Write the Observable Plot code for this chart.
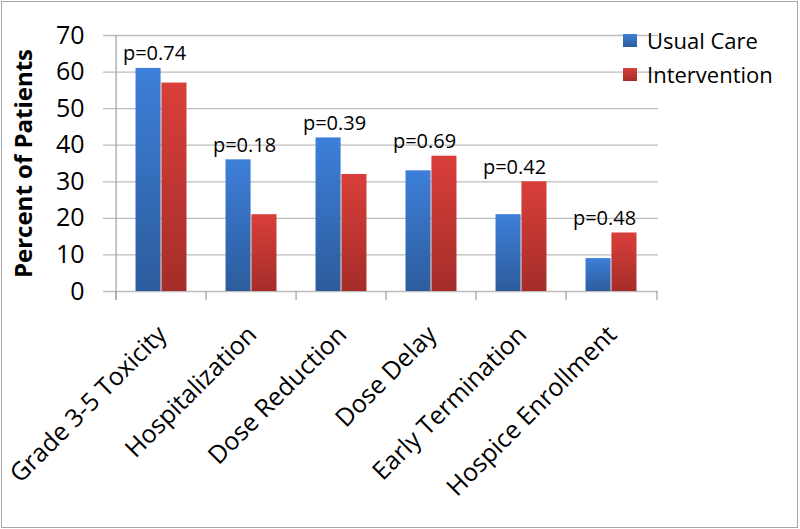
<!DOCTYPE html>
<html>
<head>
<meta charset="utf-8">
<script src="https://cdn.jsdelivr.net/npm/d3@7"></script>
<script src="https://cdn.jsdelivr.net/npm/@observablehq/plot@0.6"></script>
<style>
  html, body { margin: 0; padding: 0; background: #fff; }
  #wrap { position: relative; width: 800px; height: 529px; overflow: hidden; font-family: "Open Sans", sans-serif; }
  #chart svg { position: absolute; left: 0; top: 0; }
  #border { position: absolute; left: 1px; top: 1px; width: 797px; height: 527px; box-sizing: border-box; border: 1px solid #a8a8a8; pointer-events: none; }
  .leg { position: absolute; left: 623px; display: flex; align-items: center; font-size: 22px; color: #000; line-height: 1; }
  .leg span.sw { display: inline-block; width: 14px; height: 13px; margin-right: 10px; }
</style>
</head>
<body>
<div id="wrap">
  <div id="chart"></div>
  <div id="legend"></div>
  <div id="border"></div>
</div>
<script>
const categories = ["Grade 3-5 Toxicity", "Hospitalization", "Dose Reduction", "Dose Delay", "Early Termination", "Hospice Enrollment"];
const seriesNames = ["Usual Care", "Intervention"];
const usualCare = [61, 36, 42, 33, 21, 9];
const intervention = [57, 21, 32, 37, 30, 16];
const pValues = ["p=0.74", "p=0.18", "p=0.39", "p=0.69", "p=0.42", "p=0.48"];
const yTicks = [0, 10, 20, 30, 40, 50, 60, 70];

const W = 800, H = 529;
const mL = 113, mR = 142, mT = 35, mB = 238;
const bw = (W - mL - mR) / categories.length;
const gap = 0.215;

const rows = [];
categories.forEach((c, i) => {
  rows.push({category: c, series: seriesNames[0], value: usualCare[i]});
  rows.push({category: c, series: seriesNames[1], value: intervention[i]});
});
const pRows = categories.map((c, i) => ({category: c, p: pValues[i], top: Math.max(usualCare[i], intervention[i])}));

const grid = "#bcbcbc";
const axisC = "#a6a6a6";

const chart = Plot.plot({
  width: W, height: H,
  marginLeft: mL, marginRight: mR, marginTop: mT, marginBottom: mB,
  style: {fontFamily: "'Open Sans', sans-serif", color: "#000", background: "transparent"},
  x: {domain: categories, padding: 0, axis: null},
  y: {domain: [0, 70], axis: null},
  marks: [
    Plot.ruleY(yTicks, {stroke: grid, strokeWidth: 1.3, insetLeft: -10}),
    Plot.ruleX([categories[0]], {stroke: axisC, strokeWidth: 1.3, dx: -bw / 2, insetBottom: -9}),
    Plot.ruleX(categories, {x: d => d, y1: 0, y2: 0, insetBottom: -9, stroke: axisC, strokeWidth: 1.3, dx: -bw / 2}),
    Plot.ruleX([categories[categories.length - 1]], {x: d => d, y1: 0, y2: 0, insetBottom: -9, stroke: axisC, strokeWidth: 1.3, dx: bw / 2}),
    Plot.barY(rows.filter(d => d.series === seriesNames[0]), {x: "category", y: "value", fill: "url(#gBlue)", insetLeft: bw * gap, insetRight: bw * 0.5}),
    Plot.barY(rows.filter(d => d.series === seriesNames[1]), {x: "category", y: "value", fill: "url(#gRed)", insetLeft: bw * 0.5, insetRight: bw * gap}),
    Plot.text(pRows, {x: "category", y: "top", text: "p", lineAnchor: "bottom", dy: -8, dx: -7, fontSize: 20, fill: "#000"}),
    Plot.axisY({ticks: yTicks, tickSize: 0, tickPadding: 29, fontSize: 25, label: null, tickFormat: d => String(d)}),
    Plot.text(categories, {x: d => d, frameAnchor: "bottom", rotate: -45, textAnchor: "end", lineAnchor: "middle", dx: 1, dy: 39, fontSize: 25, fill: "#000"}),
    Plot.text(["Percent of Patients"], {frameAnchor: "left", rotate: -90, textAnchor: "middle", dx: -89, fontSize: 24, fontWeight: "bold", fill: "#000", lineAnchor: "middle"})
  ]
});

const defs = d3.select(chart).insert("defs", ":first-child");
const g1 = defs.append("linearGradient").attr("id", "gBlue").attr("x1", 0).attr("y1", 0).attr("x2", 0).attr("y2", 1);
g1.append("stop").attr("offset", "0%").attr("stop-color", "#3d7fd9");
g1.append("stop").attr("offset", "100%").attr("stop-color", "#2c5c9c");
const g2 = defs.append("linearGradient").attr("id", "gRed").attr("x1", 0).attr("y1", 0).attr("x2", 0).attr("y2", 1);
g2.append("stop").attr("offset", "0%").attr("stop-color", "#d93f3a");
g2.append("stop").attr("offset", "100%").attr("stop-color", "#a52d29");

document.getElementById("chart").appendChild(chart);

const swatches = ["linear-gradient(#3d7fd9, #2c5c9c)", "linear-gradient(#d93f3a, #a52d29)"];
const legendTops = [29, 63];
const legend = document.getElementById("legend");
seriesNames.forEach((s, i) => {
  const row = document.createElement("div");
  row.className = "leg";
  row.style.top = legendTops[i] + "px";
  const sw = document.createElement("span");
  sw.className = "sw";
  sw.style.background = swatches[i];
  row.appendChild(sw);
  row.appendChild(document.createTextNode(s));
  legend.appendChild(row);
});
</script>
</body>
</html>
